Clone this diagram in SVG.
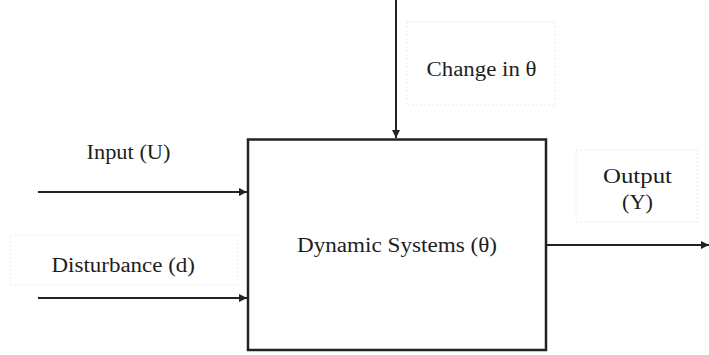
<svg xmlns="http://www.w3.org/2000/svg" width="709" height="355" viewBox="0 0 709 355">
<style>
text{font-family:"Liberation Serif","Times New Roman","DejaVu Serif",serif;font-size:20px;fill:#1e1e1e}
.c{stroke:#222;stroke-width:2;fill:none}
.lb{fill:none;stroke:#ececec;stroke-width:1;stroke-dasharray:2 2}
</style>
<defs>
<marker id="ah" viewBox="0 0 10 10" refX="10" refY="5" markerWidth="13" markerHeight="8" markerUnits="userSpaceOnUse" orient="auto"><path d="M0,0L10,5L0,10z" fill="#222"/></marker>
</defs>
<rect width="709" height="355" fill="#fff"/>
<g id="connectors">
<line class="c" x1="396" y1="0" x2="396" y2="138" marker-end="url(#ah)"/>
<line class="c" x1="38" y1="192" x2="247" y2="192" marker-end="url(#ah)"/>
<line class="c" x1="38" y1="298" x2="247" y2="298" marker-end="url(#ah)"/>
<line class="c" x1="547" y1="245" x2="709" y2="245" marker-end="url(#ah)"/>
</g>
<g id="system">
<rect x="248" y="139.5" width="298" height="210.5" fill="#fff" stroke="#222" stroke-width="2.5"/>
<text x="297" y="252" textLength="200" lengthAdjust="spacingAndGlyphs">Dynamic Systems (θ)</text>
</g>
<g id="input"><text x="86.5" y="159" textLength="84" lengthAdjust="spacingAndGlyphs">Input (U)</text></g>
<g id="disturbance"><rect class="lb" x="10" y="235" width="228" height="50"/><text x="51.5" y="272" textLength="143.5" lengthAdjust="spacingAndGlyphs">Disturbance (d)</text></g>
<g id="change"><rect class="lb" x="407" y="22" width="148" height="83"/><text x="426.5" y="76" textLength="110" lengthAdjust="spacingAndGlyphs">Change in θ</text></g>
<g id="output"><rect class="lb" x="576" y="150" width="121" height="72"/><text x="603" y="183" textLength="69" lengthAdjust="spacingAndGlyphs">Output</text><text x="622" y="209" textLength="31" lengthAdjust="spacingAndGlyphs">(Y)</text></g>
</svg>
